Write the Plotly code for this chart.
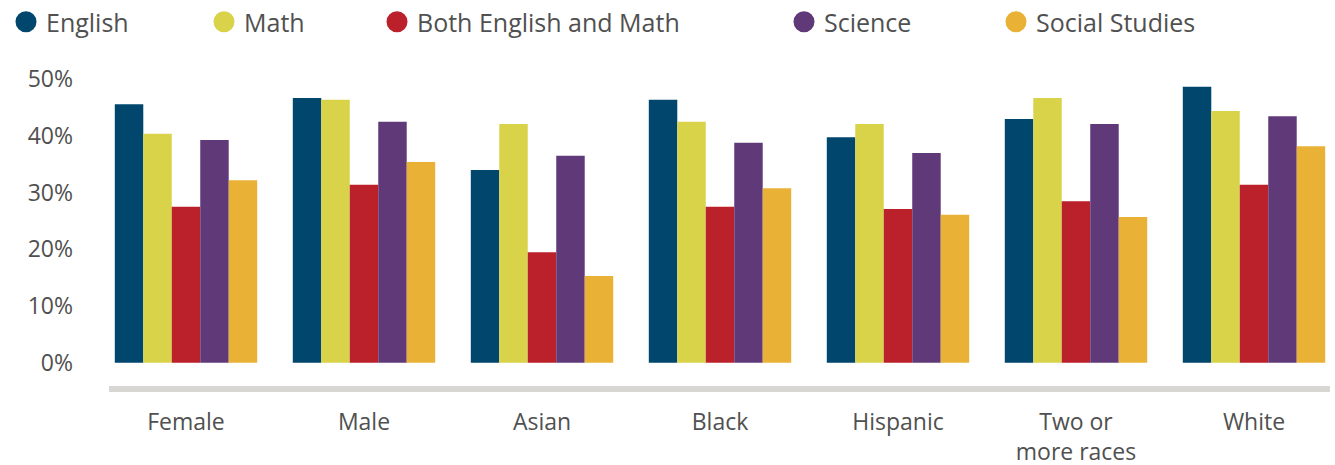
import plotly.graph_objects as go

categories = ["Female", "Male", "Asian", "Black", "Hispanic", "Two or<br>more races", "White"]
series_names = ["English", "Math", "Both English and Math", "Science", "Social Studies"]
english = [45.6, 46.7, 34.0, 46.4, 39.8, 43.0, 48.7]
math = [40.4, 46.4, 42.1, 42.5, 42.1, 46.7, 44.4]
both = [27.5, 31.4, 19.5, 27.5, 27.1, 28.5, 31.4]
science = [39.3, 42.5, 36.5, 38.8, 37.0, 42.1, 43.5]
social = [32.2, 35.4, 15.3, 30.8, 26.1, 25.7, 38.2]
y_ticks = [0, 10, 20, 30, 40, 50]

colors = ["#01476D", "#D9D34A", "#BB212B", "#603A78", "#E9B236"]
values = [english, math, both, science, social]

W, H = 1335, 465
L, R, T, B = 109, 5, 60, 79
plot_w = W - L - R
plot_h = H - T - B

FONT = "Open Sans"
TXT = "#505050"

fig = go.Figure()
for name, vals, col in zip(series_names, values, colors):
    fig.add_trace(go.Bar(x=categories, y=vals, name=name, marker=dict(color=col, line=dict(width=0)),
                         showlegend=False))

# legend entries with circular markers, one legend each for precise spacing
legend_text_px = [48, 246, 419, 826, 1038]
legend_layouts = {}
for i, (name, col) in enumerate(zip(series_names, colors)):
    lname = "legend" if i == 0 else f"legend{i+1}"
    fig.add_trace(go.Scatter(x=[None], y=[None], mode="markers", name=name, legend=lname,
                             marker=dict(symbol="circle", size=16, color=col,
                                         line=dict(color=col, width=5))))
    item_start = legend_text_px[i] - 42
    legend_layouts[lname] = dict(
        x=(item_start - L) / plot_w, xanchor="left",
        y=1 + (T - 22) / plot_h, yanchor="middle",
        orientation="h", bgcolor="rgba(0,0,0,0)", borderwidth=0,
        font=dict(family=FONT, size=25, color=TXT),
        itemclick=False, itemdoubleclick=False,
    )

x0 = -77 / 178
x1 = x0 + plot_w / 178
px_per_pct = 56.67 / 10
y_zero_px = 362.7
ybot = -((T + plot_h) - y_zero_px) / px_per_pct
ytop = (y_zero_px - T) / px_per_pct

fig.update_layout(
    width=W, height=H,
    margin=dict(l=L, r=R, t=T, b=B, pad=0, autoexpand=False),
    paper_bgcolor="white", plot_bgcolor="white",
    barmode="group", bargap=0.2, bargroupgap=0,
    font=dict(family=FONT, color=TXT),
    xaxis=dict(range=[x0, x1], showgrid=False, zeroline=False, showline=True,
               linecolor="#D8D7D3", linewidth=6, ticks="",
               tickfont=dict(family=FONT, size=23, color=TXT), ticklabelstandoff=10,
               fixedrange=True),
    yaxis=dict(range=[ybot, ytop], tickvals=y_ticks, ticktext=[f"{v}%" for v in y_ticks],
               showgrid=False, zeroline=False, showline=False, ticks="",
               tickfont=dict(family=FONT, size=23, color=TXT), ticklabelstandoff=35,
               fixedrange=True),
    **legend_layouts,
)

fig.write_html("out.html", config={"displayModeBar": False},
               post_script="document.body.style.margin='0';document.body.style.overflow='hidden';")
